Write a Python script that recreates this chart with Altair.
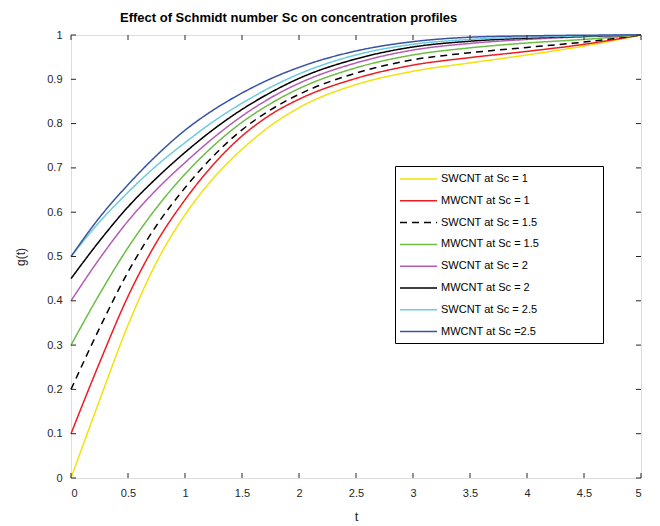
import altair as alt
import pandas as pd

# ---- data ----
T = [0, 0.25, 0.5, 0.75, 1, 1.25, 1.5, 1.75, 2, 2.5, 3, 3.5, 4, 4.5, 5]

SERIES = [
    "SWCNT at Sc = 1",
    "MWCNT at Sc = 1",
    "SWCNT at Sc = 1.5",
    "MWCNT at Sc = 1.5",
    "SWCNT at Sc = 2",
    "MWCNT at Sc = 2",
    "SWCNT at Sc = 2.5",
    "MWCNT at Sc =2.5",
]

sw_sc1 = [0, 0.175, 0.345, 0.487, 0.594, 0.677, 0.742, 0.795, 0.836, 0.888, 0.918, 0.937, 0.955, 0.975, 1]
mw_sc1 = [0.1, 0.26, 0.41, 0.532, 0.628, 0.708, 0.772, 0.82, 0.855, 0.902, 0.932, 0.949, 0.963, 0.979, 1]
sw_sc15 = [0.2, 0.338, 0.465, 0.57, 0.655, 0.727, 0.786, 0.831, 0.866, 0.914, 0.944, 0.96, 0.972, 0.984, 1]
mw_sc15 = [0.3, 0.415, 0.52, 0.61, 0.686, 0.75, 0.803, 0.845, 0.879, 0.926, 0.955, 0.971, 0.982, 0.99, 1]
sw_sc2 = [0.4, 0.495, 0.58, 0.651, 0.712, 0.768, 0.817, 0.858, 0.891, 0.937, 0.966, 0.981, 0.99, 0.996, 1]
mw_sc2 = [0.45, 0.535, 0.612, 0.677, 0.735, 0.787, 0.832, 0.87, 0.902, 0.946, 0.973, 0.986, 0.993, 0.997, 1]
sw_sc25 = [0.5, 0.578, 0.645, 0.705, 0.757, 0.805, 0.846, 0.882, 0.912, 0.955, 0.979, 0.99, 0.995, 0.998, 1]
mw_sc25 = [0.5, 0.588, 0.662, 0.728, 0.785, 0.831, 0.869, 0.901, 0.927, 0.964, 0.985, 0.995, 0.998, 0.9995, 1]

VALUES = [sw_sc1, mw_sc1, sw_sc15, mw_sc15, sw_sc2, mw_sc2, sw_sc25, mw_sc25]

COLORS = ["#F2E20A", "#EE1D23", "#000000", "#6CBD45", "#B45CB4", "#000000", "#6CCBE0", "#3853A4"]
DASHES = [[1, 0], [1, 0], [7, 5], [1, 0], [1, 0], [1, 0], [1, 0], [1, 0]]

X_TICKS = [0, 0.5, 1, 1.5, 2, 2.5, 3, 3.5, 4, 4.5, 5]
Y_TICKS = [0, 0.1, 0.2, 0.3, 0.4, 0.5, 0.6, 0.7, 0.8, 0.9, 1]

rows = []
for name, vals in zip(SERIES, VALUES):
    for t, v in zip(T, vals):
        rows.append({"t": t, "g": v, "series": name})
df = pd.DataFrame(rows)

W, H = 570, 443
FONT = "Liberation Sans"
AX = "#262626"

xscale = alt.Scale(domain=[0, 5], nice=False, zero=False)
yscale = alt.Scale(domain=[0, 1], nice=False, zero=False)

xaxis = alt.Axis(
    values=X_TICKS, format="~g", ticks=False, domain=False, grid=False,
    labelPadding=9, labelFontSize=11, labelFont=FONT, labelColor=AX,
    title="t", titleFontSize=13, titleFont=FONT, titleFontWeight="normal",
    titleColor=AX, titlePadding=12,
)
yaxis = alt.Axis(
    values=Y_TICKS, format="~g", ticks=False, domain=False, grid=False,
    labelPadding=9, labelFontSize=11, labelFont=FONT, labelColor=AX,
    title="g(t)", titleFontSize=12, titleFont=FONT, titleFontWeight="normal",
    titleColor=AX, titlePadding=19,
)

legend = alt.Legend(
    title=None,
    orient="none",
    legendX=324,
    legendY=132,
    symbolType="stroke",
    symbolSize=1369,
    symbolStrokeWidth=1.5,
    clipHeight=16,
    rowPadding=5.8,
    padding=4,
    labelOffset=3,
    labelFontSize=11,
    labelFont=FONT,
    labelColor="black",
)

# legend frame (MATLAB draws a wider box than the entries need)
frame = alt.Chart(pd.DataFrame({"k": [0]})).mark_rect(
    fill="white", stroke="black", strokeWidth=1
).encode(x=alt.value(324.5), x2=alt.value(532.5), y=alt.value(131.5), y2=alt.value(308.5))

lines = alt.Chart(df).mark_line(strokeWidth=1.5, interpolate="monotone").encode(
    x=alt.X("t:Q", scale=xscale, axis=xaxis),
    y=alt.Y("g:Q", scale=yscale, axis=yaxis),
    color=alt.Color("series:N", scale=alt.Scale(domain=SERIES, range=COLORS), sort=SERIES, legend=legend),
    strokeDash=alt.StrokeDash("series:N", scale=alt.Scale(domain=SERIES, range=DASHES), sort=SERIES, legend=legend),
)

xt = pd.DataFrame({"t": X_TICKS})
yt = pd.DataFrame({"g": Y_TICKS})

tick_bottom = alt.Chart(xt).mark_rule(color=AX, strokeWidth=1).encode(
    x=alt.X("t:Q", scale=xscale, axis=xaxis), y=alt.value(H), y2=alt.value(H - 5))
tick_top = alt.Chart(xt).mark_rule(color=AX, strokeWidth=1).encode(
    x=alt.X("t:Q", scale=xscale, axis=xaxis), y=alt.value(0), y2=alt.value(5))
tick_left = alt.Chart(yt).mark_rule(color=AX, strokeWidth=1).encode(
    y=alt.Y("g:Q", scale=yscale, axis=yaxis), x=alt.value(0), x2=alt.value(5))
tick_right = alt.Chart(yt).mark_rule(color=AX, strokeWidth=1).encode(
    y=alt.Y("g:Q", scale=yscale, axis=yaxis), x=alt.value(W), x2=alt.value(W - 5))

chart = alt.layer(lines, tick_bottom, tick_top, tick_left, tick_right, frame).properties(
    width=W,
    height=H,
    autosize="none",
    padding={"left": 71, "top": 35, "right": 19, "bottom": 48},
    title=alt.Title(
        "Effect of Schmidt number Sc on concentration profiles",
        anchor="start", frame="group", dx=49, offset=4, fontSize=13, fontWeight="bold",
        font=FONT, color="black",
    ),
).configure_view(stroke=AX, strokeWidth=1).configure(background="white")

chart.save("out.html", embed_options={"renderer": "svg", "actions": False})
